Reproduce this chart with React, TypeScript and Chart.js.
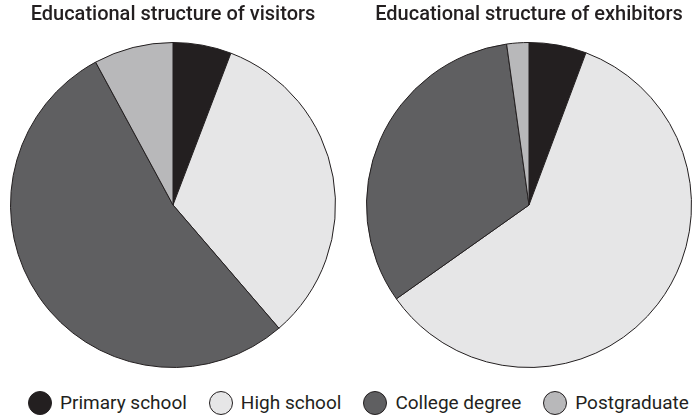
import React, { useEffect, useRef } from "react";
import { Chart, registerables } from "chart.js";

Chart.register(...registerables);

const categories = ["Primary school", "High school", "College degree", "Postgraduate"];
const visitorsValues = [5.8, 32.9, 53.4, 7.9];
const exhibitorsValues = [5.7, 59.5, 32.6, 2.2];
const sliceColors = ["#231f20", "#e6e6e7", "#5f5f61", "#b8b8ba"];
const titles = ["Educational structure of visitors", "Educational structure of exhibitors"];
const FONT = "Roboto, 'DejaVu Sans', sans-serif";

function PieChart({ title, values }: { title: string; values: number[] }) {
  const ref = useRef<HTMLCanvasElement | null>(null);
  useEffect(() => {
    if (!ref.current) return;
    const chart = new Chart(ref.current, {
      type: "pie",
      data: {
        labels: categories,
        datasets: [
          {
            data: values,
            backgroundColor: sliceColors,
            borderColor: "#231f20",
            borderWidth: 1,
          },
        ],
      },
      options: {
        animation: false,
        responsive: false,
        maintainAspectRatio: false,
        layout: { padding: 0 },
        plugins: {
          legend: { display: false },
          tooltip: { enabled: false },
          title: {
            display: true,
            text: title,
            color: "#231f20",
            font: { family: FONT, size: 20, weight: "500" },
            padding: { top: 3, bottom: 15 },
          },
        },
      },
    });
    return () => chart.destroy();
  }, [title, values]);
  return <canvas ref={ref} width={326} height={368} style={{ width: 326, height: 368 }} />;
}

export default function App() {
  useEffect(() => {
    document.body.style.margin = "0";
  }, []);
  return (
    <div style={{ position: "relative", width: 692, height: 418, overflow: "hidden", background: "#fff" }}>
      <div style={{ position: "absolute", left: 10, top: 0 }}>
        <PieChart title={titles[0]} values={visitorsValues} />
      </div>
      <div style={{ position: "absolute", left: 366, top: 0 }}>
        <PieChart title={titles[1]} values={exhibitorsValues} />
      </div>
      <div
        style={{
          position: "absolute",
          left: 28,
          top: 390,
          width: 664,
          height: 25,
          display: "flex",
          justifyContent: "flex-start",
          alignItems: "center",
          fontFamily: FONT,
          fontSize: 19,
          color: "#231f20",
          whiteSpace: "nowrap",
        }}
      >
        {categories.map((c, i) => (
          <div key={c} style={{ display: "flex", alignItems: "center", marginRight: i < categories.length - 1 ? 22 : 0 }}>
            <span
              style={{
                display: "inline-block",
                boxSizing: "border-box",
                width: 24,
                height: 24,
                borderRadius: "50%",
                background: sliceColors[i],
                border: "1.5px solid #231f20",
                marginRight: 8,
              }}
            />
            <span>{c}</span>
          </div>
        ))}
      </div>
    </div>
  );
}
